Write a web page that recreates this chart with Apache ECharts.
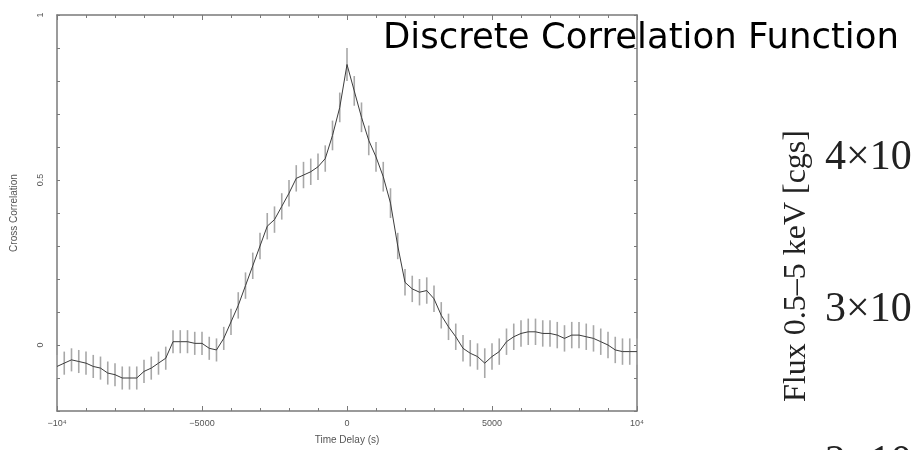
<!DOCTYPE html>
<html>
<head>
<meta charset="utf-8">
<script src="https://cdn.jsdelivr.net/npm/echarts@6/dist/echarts.min.js"></script>
<style>html,body{margin:0;padding:0;background:#fff}#c{width:914px;height:450px}</style>
</head>
<body>
<div id="c"></div>
<script>
const delays = [-10000,-9750,-9500,-9250,-9000,-8750,-8500,-8250,-8000,-7750,-7500,-7250,-7000,-6750,-6500,-6250,-6000,-5750,-5500,-5250,-5000,-4750,-4500,-4250,-4000,-3750,-3500,-3250,-3000,-2750,-2500,-2250,-2000,-1750,-1500,-1250,-1000,-750,-500,-250,0,250,500,750,1000,1250,1500,1750,2000,2250,2500,2750,3000,3250,3500,3750,4000,4250,4500,4750,5000,5250,5500,5750,6000,6250,6500,6750,7000,7250,7500,7750,8000,8250,8500,8750,9000,9250,9500,9750,10000];
const dcf = [-0.065,-0.055,-0.045,-0.05,-0.055,-0.065,-0.07,-0.085,-0.09,-0.1,-0.1,-0.1,-0.08,-0.07,-0.055,-0.04,0.01,0.01,0.01,0.005,0.005,-0.01,-0.015,0.02,0.07,0.12,0.18,0.24,0.3,0.36,0.38,0.42,0.46,0.505,0.515,0.525,0.54,0.565,0.635,0.72,0.85,0.77,0.69,0.62,0.57,0.51,0.43,0.3,0.19,0.17,0.16,0.165,0.14,0.09,0.055,0.025,-0.01,-0.025,-0.035,-0.055,-0.035,-0.02,0.01,0.025,0.035,0.04,0.04,0.035,0.035,0.03,0.02,0.03,0.03,0.025,0.02,0.01,0.0,-0.015,-0.02,-0.02,-0.02];
const dcfErr = [0.035,0.035,0.035,0.035,0.035,0.035,0.035,0.035,0.035,0.035,0.035,0.035,0.035,0.035,0.035,0.035,0.035,0.035,0.035,0.035,0.035,0.035,0.035,0.035,0.04,0.04,0.04,0.04,0.04,0.04,0.04,0.04,0.04,0.04,0.04,0.04,0.04,0.04,0.045,0.045,0.05,0.045,0.045,0.045,0.045,0.045,0.045,0.04,0.04,0.04,0.04,0.04,0.04,0.04,0.04,0.04,0.04,0.04,0.04,0.045,0.04,0.04,0.04,0.04,0.04,0.04,0.04,0.04,0.04,0.04,0.04,0.04,0.04,0.04,0.04,0.04,0.04,0.04,0.04,0.04,0.04];
const xLabels = {"-10000":"\u221210\u2074","-5000":"\u22125000","0":"0","5000":"5000","10000":"10\u2074"};
const yLabels = {"0":"0","0.5":"0.5","1":"1"};
const titleText = "Discrete Correlation Function";
const fluxLabel = "Flux 0.5\u20135 keV [cgs]";
const fluxTicks = ["4\u00d710", "3\u00d710", "2\u00d710"];

const lineData = delays.map((d, i) => [d, dcf[i]]);
const errData = delays.map((d, i) => [d, dcf[i] - dcfErr[i], dcf[i] + dcfErr[i]]);

const axisColor = '#7a7a7a';
const labelColor = '#555';
const chart = echarts.init(document.getElementById('c'), null, {renderer: 'canvas'});
chart.setOption({
  animation: false,
  backgroundColor: '#fff',
  grid: {left: 57, right: 277, top: 15, bottom: 37},
  xAxis: [{
    type: 'value', min: -10000, max: 10000, interval: 5000,
    axisLine: {onZero: false, lineStyle: {color: axisColor, width: 1.5}},
    axisTick: {inside: true, length: 5, lineStyle: {color: axisColor}},
    minorTick: {show: true, splitNumber: 5, length: 3, lineStyle: {color: axisColor}},
    splitLine: {show: false},
    axisLabel: {color: labelColor, fontSize: 9, fontFamily: 'Liberation Sans', margin: 8,
      formatter: v => xLabels[String(v)] !== undefined ? xLabels[String(v)] : ''},
    name: 'Time Delay (s)', nameLocation: 'middle', nameGap: 24,
    nameTextStyle: {color: labelColor, fontSize: 10, fontFamily: 'Liberation Sans'}
  }, {
    type: 'value', position: 'top', min: -10000, max: 10000, interval: 5000,
    axisLine: {onZero: false, lineStyle: {color: axisColor, width: 1.5}},
    axisTick: {inside: true, length: 5, lineStyle: {color: axisColor}},
    minorTick: {show: true, splitNumber: 5, length: 3, lineStyle: {color: axisColor}},
    splitLine: {show: false}, axisLabel: {show: false}
  }],
  yAxis: [{
    type: 'value', min: -0.2, max: 1, interval: 0.1,
    axisLine: {onZero: false, lineStyle: {color: axisColor, width: 1.5}},
    axisTick: {inside: true, length: 3, lineStyle: {color: axisColor}},
    splitLine: {show: false},
    axisLabel: {color: labelColor, fontSize: 9, fontFamily: 'Liberation Sans', rotate: 90, margin: 12,
      formatter: v => { const k = String(Math.round(v * 10) / 10); return yLabels[k] !== undefined ? yLabels[k] : ''; }},
    name: 'Cross Correlation', nameLocation: 'middle', nameGap: 38, nameRotate: 90,
    nameTextStyle: {color: labelColor, fontSize: 10, fontFamily: 'Liberation Sans'}
  }, {
    type: 'value', position: 'right', min: -0.2, max: 1, interval: 0.1,
    axisLine: {onZero: false, lineStyle: {color: axisColor, width: 1.5}},
    axisTick: {inside: true, length: 3, lineStyle: {color: axisColor}},
    splitLine: {show: false}, axisLabel: {show: false}
  }],
  series: [{
    type: 'custom',
    xAxisIndex: 0, yAxisIndex: 0,
    data: errData,
    encode: {x: 0, y: [1, 2]},
    renderItem: (params, api) => {
      const lo = api.coord([api.value(0), api.value(1)]);
      const hi = api.coord([api.value(0), api.value(2)]);
      return {type: 'line', shape: {x1: lo[0], y1: lo[1], x2: hi[0], y2: hi[1]},
        style: {stroke: '#a8a8a8', lineWidth: 1.6}};
    },
    z: 1
  }, {
    type: 'line', xAxisIndex: 0, yAxisIndex: 0,
    data: lineData, showSymbol: false, symbol: 'none',
    lineStyle: {color: '#3c3c3c', width: 1}, z: 2
  }],
  graphic: [
    {type: 'text', left: 383, top: 21, z: 10,
      style: {text: titleText, fontSize: 35.5, fontFamily: "'Comic Sans MS', 'DejaVu Sans'", fill: '#000'}},
    {type: 'text', x: 797, y: 402, rotation: Math.PI / 2, z: 10,
      style: {text: fluxLabel, fontSize: 32, fontFamily: 'Liberation Serif', fill: '#222', align: 'left', verticalAlign: 'middle'}},
    {type: 'text', x: 825, y: 158, z: 10,
      style: {text: fluxTicks[0], fontSize: 42, fontFamily: 'Liberation Serif', fill: '#222', align: 'left', verticalAlign: 'middle'}},
    {type: 'text', x: 825, y: 310, z: 10,
      style: {text: fluxTicks[1], fontSize: 42, fontFamily: 'Liberation Serif', fill: '#222', align: 'left', verticalAlign: 'middle'}},
    {type: 'text', x: 825, y: 463, z: 10,
      style: {text: fluxTicks[2], fontSize: 42, fontFamily: 'Liberation Serif', fill: '#222', align: 'left', verticalAlign: 'middle'}}
  ]
});
</script>
</body>
</html>
